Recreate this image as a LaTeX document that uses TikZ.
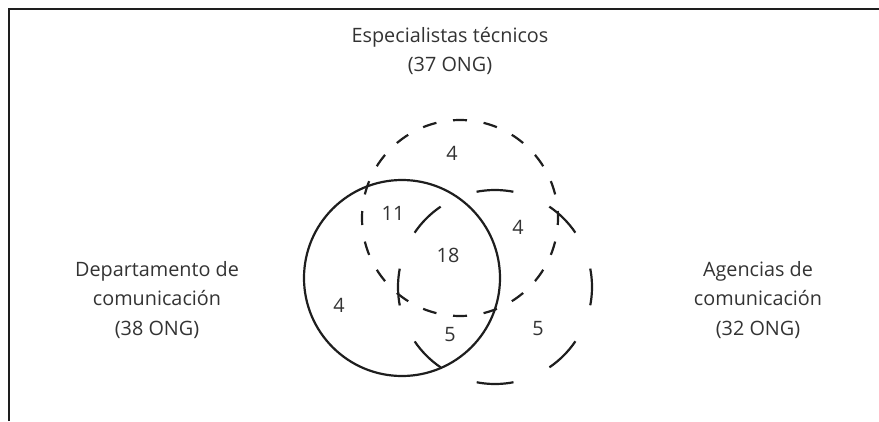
\documentclass[tikz,border=0pt]{standalone}
\usepackage{fontspec}
\setmainfont{Open Sans}
\definecolor{textgray}{RGB}{51,51,51}
\definecolor{linegray}{RGB}{30,30,30}
\tikzset{
  frame-line/.style={
    line width=2pt,
    draw=linegray
  },
  set-base/.style={
    circle,
    line width=2.2pt,
    draw=linegray,
    minimum size=196pt,
    inner sep=0pt
  },
  set-solid/.style={set-base},
  set-dashed/.style={set-base, dash pattern=on 14pt off 16.79pt, dash phase=7pt},
  set-longdash/.style={set-base, minimum size=194pt, dash pattern=on 37pt off 39.2pt, dash phase=18.5pt},
  set-label/.style={align=center, text=textgray, font=\fontsize{19.8}{29.5}\selectfont},
  count-label/.style={text=textgray, font=\fontsize{19.8}{22}\selectfont, inner sep=0pt}
}
\begin{document}
\begin{tikzpicture}[x=1pt, y=-1pt]
  \useasboundingbox (0,0) rectangle (879,421);
  % Frame
  \coordinate (frame-bl) at (9,421);
  \coordinate (frame-tl) at (9,9);
  \coordinate (frame-tr) at (879,9);
  \draw[frame-line] (frame-bl) -- (frame-tl) -- (frame-tr);
  % Sets
  \node[set-solid] (dept) at (402,278) {};
  \node[set-dashed] (tech) at (460,218) {};
  \node[set-longdash] (agency) at (495,287) {};
  % Set titles
  \node[set-label] (tech-title) at (450,51) {Especialistas técnicos\\(37 ONG)};
  \node[set-label] (dept-title) at (157,300) {Departamento de\\comunicación\\(38 ONG)};
  \node[set-label] (agency-title) at (758,300) {Agencias de\\comunicación\\(32 ONG)};
  % Counts
  \node[count-label] (n-tech) at (452,153) {4};
  \node[count-label] (n-dept-tech) at (393,213) {11};
  \node[count-label] (n-tech-agency) at (518,227) {4};
  \node[count-label] (n-all) at (448,255) {18};
  \node[count-label] (n-dept) at (339,305) {4};
  \node[count-label] (n-dept-agency) at (450,335) {5};
  \node[count-label] (n-agency) at (538,329) {5};
\end{tikzpicture}
\end{document}
